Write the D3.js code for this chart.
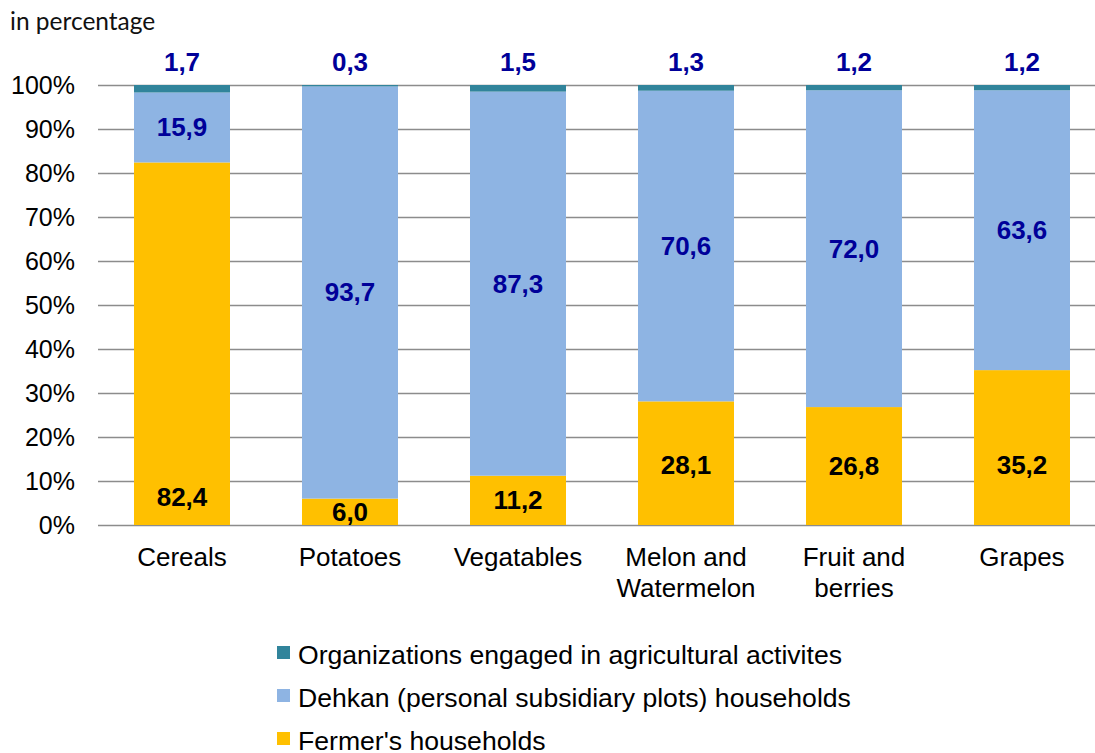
<!DOCTYPE html>
<html><head><meta charset="utf-8">
<script src="https://cdn.jsdelivr.net/npm/d3@7"></script>
<style>body{margin:0;background:#fff}svg{display:block}</style>
</head><body>
<script>
const categories = [["Cereals"],["Potatoes"],["Vegatables"],["Melon and","Watermelon"],["Fruit and","berries"],["Grapes"]];
const fermer = [82.4, 6.0, 11.2, 28.1, 26.8, 35.2];
const dehkan = [15.9, 93.7, 87.3, 70.6, 72.0, 63.6];
const organizations = [1.7, 0.3, 1.5, 1.3, 1.2, 1.2];
const seriesNames = ["Organizations engaged in agricultural activites","Dehkan (personal subsidiary plots) households","Fermer's households"];
const yTicks = [0,10,20,30,40,50,60,70,80,90,100];

const W=1095,H=753;
const FONT="'Liberation Sans', Arial, sans-serif";
const colors={org:"#31849B",dehkan:"#8EB4E3",fermer:"#FFC000"};
const svg=d3.select("body").append("svg").attr("width",W).attr("height",H);
const x=d3.scaleBand().domain(d3.range(categories.length)).range([98,1106]).paddingInner(0.4286).paddingOuter(0.2143);
const y=d3.scaleLinear().domain([0,100]).range([525,85]);
const fmt=v=>v.toFixed(1).replace(".",",");

svg.append("text").attr("x",10).attr("y",30).attr("font-family","Lato, 'Open Sans', sans-serif").attr("font-size",24.5).attr("fill","#111").text("in percentage");

// grid
const gAxis=svg.append("g").attr("transform","translate(98,0)")
 .call(d3.axisLeft(y).tickValues(yTicks).tickSize(-1010).tickFormat(d=>d+"%").tickPadding(23));
gAxis.select(".domain").remove();
gAxis.selectAll(".tick line").attr("stroke","#8c8c8c").attr("stroke-width",1.6);
gAxis.selectAll(".tick text").attr("font-family",FONT).attr("font-size",25).attr("fill","#000");

const data=categories.map((c,i)=>({i,f:fermer[i],d:dehkan[i],o:organizations[i]}));
const g=svg.append("g");
data.forEach(dd=>{
  const bx=x(dd.i),bw=x.bandwidth();
  g.append("rect").attr("x",bx).attr("width",bw).attr("y",y(dd.f)).attr("height",y(0)-y(dd.f)).attr("fill",colors.fermer);
  g.append("rect").attr("x",bx).attr("width",bw).attr("y",y(dd.f+dd.d)).attr("height",y(dd.f)-y(dd.f+dd.d)).attr("fill",colors.dehkan);
  g.append("rect").attr("x",bx).attr("width",bw).attr("y",y(dd.f+dd.d+dd.o)).attr("height",y(dd.f+dd.d)-y(dd.f+dd.d+dd.o)).attr("fill",colors.org);
  const cx=bx+bw/2;
  const lab=(t,yy,col)=>g.append("text").attr("x",cx).attr("y",yy).attr("text-anchor","middle").attr("dominant-baseline","central")
     .attr("font-family",FONT).attr("font-weight","bold").attr("font-size",26).attr("fill",col).text(t);
  lab(fmt(dd.o),y(100)-23,"#000099");
  lab(fmt(dd.d),y(dd.f+dd.d/2),"#000099");
  const fy = dd.f>50 ? y(dd.f*0.078) : y(Math.min(dd.f/2,13.6));
  lab(fmt(dd.f),fy,"#000");
  const t=svg.append("text").attr("text-anchor","middle").attr("font-family",FONT).attr("font-size",26).attr("fill","#000");
  categories[dd.i].forEach((line,k)=>t.append("tspan").attr("x",cx).attr("y",566+k*31).text(line));
});

// legend
const leg=[["org",seriesNames[0]],["dehkan",seriesNames[1]],["fermer",seriesNames[2]]];
leg.forEach((l,k)=>{
  const yy=655+k*43;
  svg.append("rect").attr("x",277).attr("y",yy-9).attr("width",13).attr("height",13).attr("fill",colors[l[0]]);
  svg.append("text").attr("x",298).attr("y",yy).attr("dominant-baseline","central").attr("font-family",FONT).attr("font-size",26.6).attr("fill","#000").text(l[1]);
});
</script>
</body></html>
